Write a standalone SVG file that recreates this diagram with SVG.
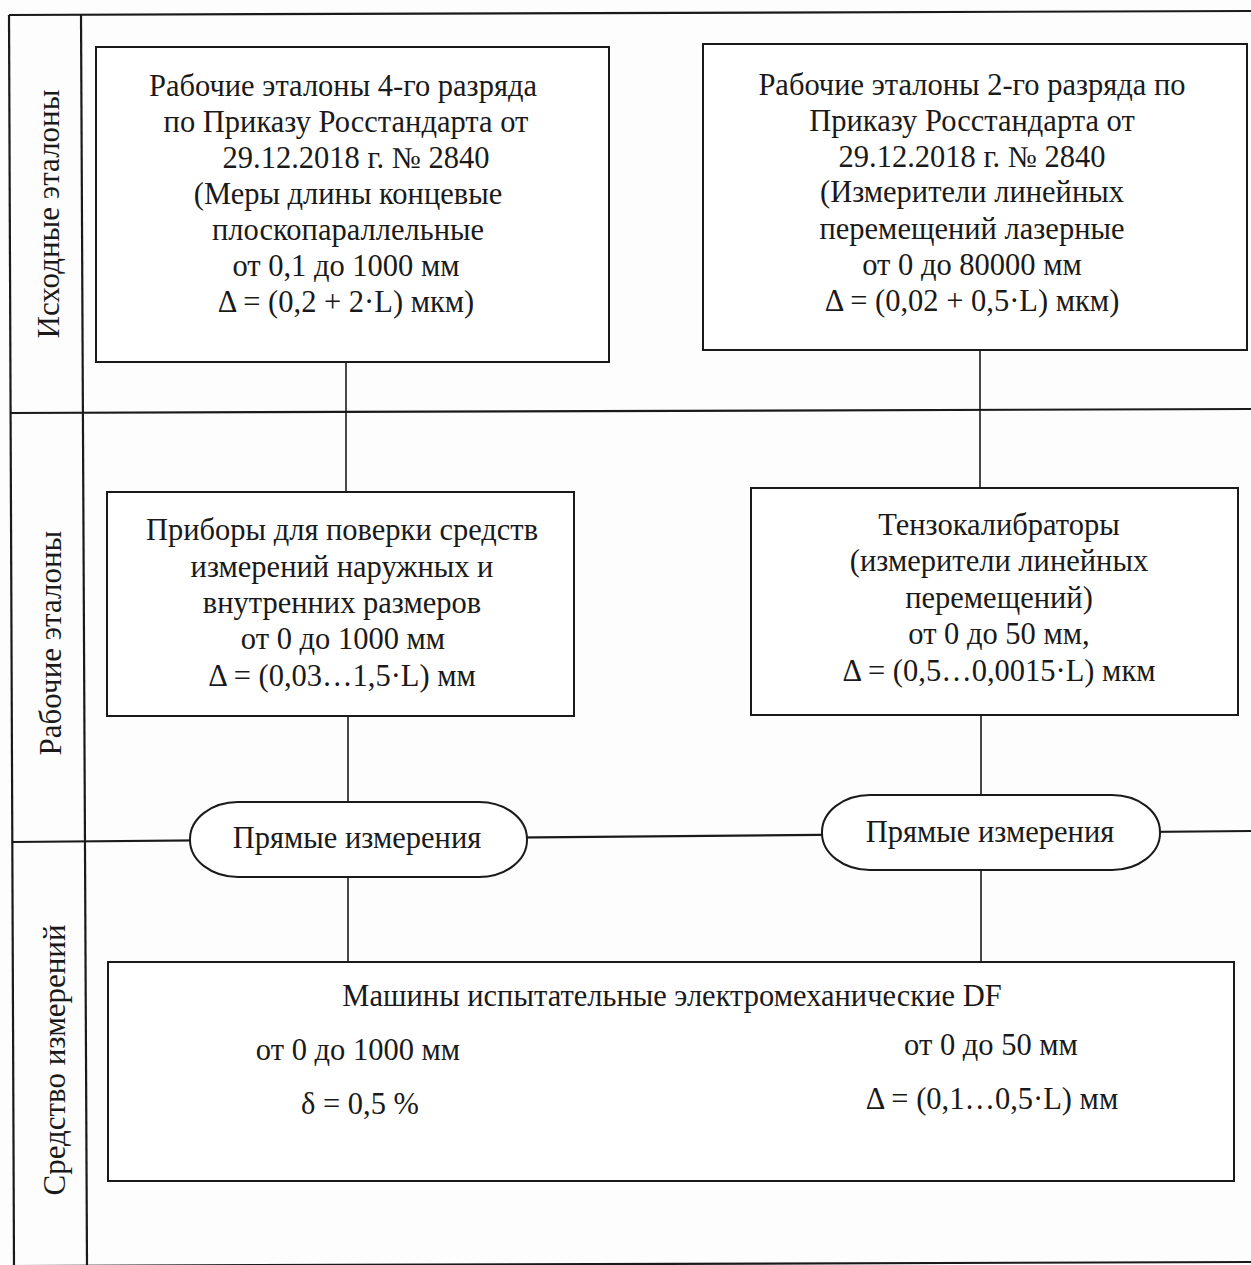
<svg xmlns="http://www.w3.org/2000/svg" width="1251" height="1265" viewBox="0 0 1251 1265">
<style>
.frame{stroke:#1a1a1a;stroke-width:2.2;fill:none}
.box{stroke:#1a1a1a;stroke-width:2;fill:#ffffff}
.conn{stroke:#1a1a1a;stroke-width:1.6;fill:none}
.t{font-family:"Liberation Serif","Times New Roman",serif;font-size:30.5px;fill:#1a1a1a;text-anchor:middle}
.lane{font-family:"Liberation Serif","Times New Roman",serif;font-size:31px;fill:#1a1a1a;text-anchor:middle}
</style>
<rect x="0" y="0" width="1251" height="1265" fill="#fdfdfd"/>
<g id="frame">
<line class="frame" x1="9" y1="15" x2="1251" y2="11"/>
<line class="frame" x1="9" y1="15" x2="14" y2="1265"/>
<line class="frame" x1="81" y1="15" x2="87" y2="1265"/>
<line class="frame" x1="10" y1="413" x2="1251" y2="409"/>
<line class="frame" x1="14" y1="1266" x2="1251" y2="1262"/>
</g>
<g id="lanes">
<text class="lane" transform="translate(59,214) rotate(-90)">Исходные эталоны</text>
<text class="lane" transform="translate(61,643) rotate(-90)">Рабочие эталоны</text>
<text class="lane" transform="translate(65,1060) rotate(-90)">Средство измерений</text>
</g>
<g id="connectors">
<line class="frame" x1="12" y1="842" x2="1251" y2="831"/>
<line class="conn" x1="346" y1="362" x2="346" y2="492"/>
<line class="conn" x1="980" y1="350" x2="980" y2="488"/>
<line class="conn" x1="348" y1="716" x2="348" y2="802"/>
<line class="conn" x1="981" y1="715" x2="981" y2="795"/>
<line class="conn" x1="348" y1="877" x2="348" y2="962"/>
<line class="conn" x1="981" y1="870" x2="981" y2="962"/>
</g>
<g id="node1">
<rect class="box" x="96" y="47" width="513" height="315"/>
<text class="t" x="343" y="96">Рабочие эталоны 4-го разряда</text>
<text class="t" x="346" y="132">по Приказу Росстандарта от</text>
<text class="t" x="356" y="168">29.12.2018 г. № 2840</text>
<text class="t" x="348" y="204">(Меры длины концевые</text>
<text class="t" x="348" y="240">плоскопараллельные</text>
<text class="t" x="346" y="276">от 0,1 до 1000 мм</text>
<text class="t" x="346" y="312">Δ = (0,2 + 2·L) мкм)</text>
</g>
<g id="node2">
<rect class="box" x="703" y="44" width="544" height="306"/>
<text class="t" x="972" y="95">Рабочие эталоны 2-го разряда по</text>
<text class="t" x="972" y="131">Приказу Росстандарта от</text>
<text class="t" x="972" y="167">29.12.2018 г. № 2840</text>
<text class="t" x="972" y="202">(Измерители линейных</text>
<text class="t" x="972" y="239">перемещений лазерные</text>
<text class="t" x="972" y="275">от 0 до 80000 мм</text>
<text class="t" x="972" y="311">Δ = (0,02 + 0,5·L) мкм)</text>
</g>
<g id="node3">
<rect class="box" x="107" y="492" width="467" height="224"/>
<text class="t" x="342" y="540">Приборы для поверки средств</text>
<text class="t" x="342" y="577">измерений наружных и</text>
<text class="t" x="342" y="613">внутренних размеров</text>
<text class="t" x="343" y="649">от 0 до 1000 мм</text>
<text class="t" x="342" y="686">Δ = (0,03…1,5·L) мм</text>
</g>
<g id="node4">
<rect class="box" x="751" y="488" width="487" height="227"/>
<text class="t" x="999" y="535">Тензокалибраторы</text>
<text class="t" x="999" y="571">(измерители линейных</text>
<text class="t" x="999" y="608">перемещений)</text>
<text class="t" x="999" y="644">от 0 до 50 мм,</text>
<text class="t" x="999" y="681">Δ = (0,5…0,0015·L) мкм</text>
</g>
<g id="node5">
<rect class="box" x="190" y="802" width="337" height="75" rx="48" ry="37"/>
<text class="t" x="357" y="848">Прямые измерения</text>
</g>
<g id="node6">
<rect class="box" x="822" y="795" width="338" height="75" rx="48" ry="37"/>
<text class="t" x="990" y="842">Прямые измерения</text>
</g>
<g id="node7">
<rect class="box" x="108" y="962" width="1126" height="219"/>
<text class="t" x="672" y="1006">Машины испытательные электромеханические DF</text>
<text class="t" x="358" y="1060">от 0 до 1000 мм</text>
<text class="t" x="360" y="1114">δ = 0,5 %</text>
<text class="t" x="991" y="1055">от 0 до 50 мм</text>
<text class="t" x="992" y="1109">Δ = (0,1…0,5·L) мм</text>
</g>
</svg>
